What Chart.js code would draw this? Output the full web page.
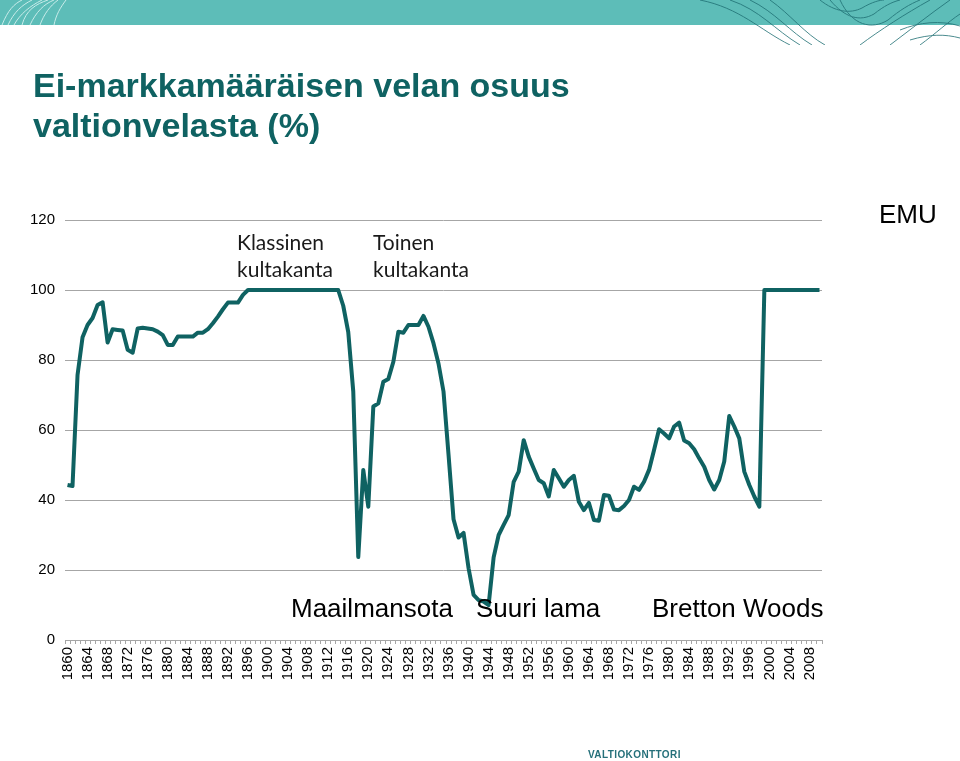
<!DOCTYPE html>
<html>
<head>
<meta charset="utf-8">
<script src="https://cdn.jsdelivr.net/npm/chart.js@4/dist/chart.umd.min.js"></script>
<style>
  body { margin: 0; background: #fff; }
  #page { position: relative; width: 960px; height: 761px; overflow: hidden; font-family: Arial, "Liberation Sans", sans-serif; }
  #shareChart { position: absolute; left: 0; top: 0; }
  .txt { position: absolute; white-space: nowrap; }
  #title { left: 33px; top: 65px; font-size: 34px; line-height: 40px; font-weight: bold; color: #0f6262; }
  .era { font-family: Lato, "Open Sans", sans-serif; font-size: 21px; line-height: 27px; color: #1a1a1a; top: 228px; }
  .event { font-size: 26px; line-height: 26px; color: #000; }
  #logo { left: 588px; top: 750px; font-size: 10px; line-height: 10px; font-weight: bold; letter-spacing: 0.4px; color: #25707a; }
</style>
</head>
<body>
<div id="page">
  <svg width="960" height="45" style="position:absolute;left:0;top:0">
    <rect x="0" y="0" width="960" height="25" fill="#5dbdb8"/>
    <g fill="none" stroke="#c9ecea" stroke-width="1">
      <path d="M2 25 C8 10, 14 4, 22 0"/>
      <path d="M8 25 C14 12, 22 5, 32 0"/>
      <path d="M14 25 C20 14, 30 6, 42 0"/>
      <path d="M22 25 C26 10, 36 4, 48 0"/>
      <path d="M30 25 C36 12, 44 4, 54 0"/>
      <path d="M40 25 C44 14, 50 6, 58 0"/>
      <path d="M54 25 C56 15, 60 8, 66 0"/>
    </g>
    <g fill="none" stroke="#1f6f73" stroke-width="1" opacity="0.8">
      <path d="M700 0 C740 8, 760 30, 790 45"/>
      <path d="M730 0 C760 10, 775 30, 800 45"/>
      <path d="M750 0 C775 12, 790 32, 812 45"/>
      <path d="M770 0 C790 14, 805 34, 825 45"/>
      <path d="M820 0 C835 12, 850 14, 862 8 C872 2, 880 0, 884 0"/>
      <path d="M830 0 C845 18, 860 22, 874 14 C884 6, 892 2, 900 0"/>
      <path d="M840 0 C852 26, 872 30, 888 20 C900 10, 910 4, 920 0"/>
      <path d="M860 45 C880 30, 905 14, 930 0"/>
      <path d="M890 45 C910 30, 930 14, 950 0"/>
      <path d="M920 45 C935 34, 948 22, 960 14"/>
      <path d="M900 30 C920 22, 940 20, 960 26"/>
      <path d="M910 40 C930 34, 945 34, 960 38"/>
    </g>
  </svg>
  <canvas id="shareChart" width="960" height="761"></canvas>
  <div id="title" class="txt">Ei-markkamääräisen velan osuus<br>valtionvelasta (%)</div>
  <div class="txt era" style="left:237px">Klassinen<br>kultakanta</div>
  <div class="txt era" style="left:373px">Toinen<br>kultakanta</div>
  <div class="txt event" style="left:291px;top:595px">Maailmansota</div>
  <div class="txt event" style="left:476px;top:595px">Suuri lama</div>
  <div class="txt event" style="left:652px;top:595px">Bretton Woods</div>
  <div class="txt event" style="left:879px;top:201px">EMU</div>
  <div id="logo" class="txt">VALTIOKONTTORI</div>
</div>
<script>
// years 1860 - 2010
const years = [
  1860, 1861, 1862, 1863, 1864, 1865, 1866, 1867, 1868, 1869,
  1870, 1871, 1872, 1873, 1874, 1875, 1876, 1877, 1878, 1879,
  1880, 1881, 1882, 1883, 1884, 1885, 1886, 1887, 1888, 1889,
  1890, 1891, 1892, 1893, 1894, 1895, 1896, 1897, 1898, 1899,
  1900, 1901, 1902, 1903, 1904, 1905, 1906, 1907, 1908, 1909,
  1910, 1911, 1912, 1913, 1914, 1915, 1916, 1917, 1918, 1919,
  1920, 1921, 1922, 1923, 1924, 1925, 1926, 1927, 1928, 1929,
  1930, 1931, 1932, 1933, 1934, 1935, 1936, 1937, 1938, 1939,
  1940, 1941, 1942, 1943, 1944, 1945, 1946, 1947, 1948, 1949,
  1950, 1951, 1952, 1953, 1954, 1955, 1956, 1957, 1958, 1959,
  1960, 1961, 1962, 1963, 1964, 1965, 1966, 1967, 1968, 1969,
  1970, 1971, 1972, 1973, 1974, 1975, 1976, 1977, 1978, 1979,
  1980, 1981, 1982, 1983, 1984, 1985, 1986, 1987, 1988, 1989,
  1990, 1991, 1992, 1993, 1994, 1995, 1996, 1997, 1998, 1999,
  2000, 2001, 2002, 2003, 2004, 2005, 2006, 2007, 2008, 2009,
  2010
];

// share of non-markka debt, %
const shareValues = [
  44.3, 44.0, 75.7, 86.5, 90.0, 92.0, 95.7, 96.5, 85.0, 88.8,
  88.6, 88.4, 82.9, 82.1, 89.0, 89.2, 89.0, 88.8, 88.1, 87.1,
  84.3, 84.3, 86.7, 86.7, 86.7, 86.7, 87.8, 87.8, 88.8, 90.5,
  92.4, 94.5, 96.4, 96.4, 96.4, 98.6, 100, 100, 100, 100,
  100, 100, 100, 100, 100, 100, 100, 100, 100, 100,
  100, 100, 100, 100, 100, 95.5, 88.0, 71.0, 23.7, 48.6,
  38.1, 66.7, 67.6, 73.8, 74.6, 79.5, 88.1, 87.8, 90.0, 90.0,
  90.0, 92.6, 89.5, 84.8, 79.0, 71.0, 53.0, 34.5, 29.3, 30.6,
  20.5, 12.9, 11.4, 11.0, 10.0, 23.6, 30.0, 32.9, 35.7, 45.2,
  48.1, 57.1, 52.4, 49.0, 45.7, 44.8, 41.0, 48.6, 46.2, 43.8,
  45.7, 46.9, 39.5, 37.1, 39.2, 34.3, 34.1, 41.4, 41.2, 37.3,
  37.1, 38.3, 40.0, 43.8, 42.9, 45.2, 48.6, 54.3, 60.2, 59.0,
  57.6, 61.0, 62.1, 57.0, 56.2, 54.5, 51.9, 49.5, 45.7, 43.0,
  45.7, 51.0, 64.0, 61.0, 57.6, 48.1, 44.3, 41.0, 38.1, 100,
  100, 100, 100, 100, 100, 100, 100, 100, 100, 100,
  100
];

const yTicks = [0, 20, 40, 60, 80, 100, 120];
const labelEvery = 4;

const gridGray = "#a6a6a6";
const tickFont = { family: "Arial, 'Liberation Sans', sans-serif", size: 15 };

const ctx = document.getElementById("shareChart");
new Chart(ctx, {
  type: "line",
  data: {
    labels: years,
    datasets: [
      {
        label: "Ei-markkamääräinen velka",
        data: shareValues,
        borderColor: "#0f6262",
        borderWidth: 4,
        pointRadius: 0,
        tension: 0,
        fill: false,
        borderJoinStyle: "round",
      },
    ],
  },
  options: {
    responsive: false,
    animation: false,
    layout: { padding: { left: 0, top: 220, right: 138, bottom: 61 } },
    plugins: {
      legend: { display: false },
      tooltip: { enabled: false },
    },
    scales: {
      x: {
        offset: true,
        grid: { drawOnChartArea: false, color: gridGray, tickLength: 4, offset: true },
        border: { color: gridGray },
        ticks: {
          autoSkip: false,
          minRotation: 90,
          maxRotation: 90,
          padding: 3,
          color: "#000",
          font: tickFont,
          callback: (value, index) => (index % labelEvery === 0 ? years[index] : ""),
        },
        afterFit: (scale) => {
          scale.height = 60;
        },
      },
      y: {
        min: yTicks[0],
        max: yTicks[yTicks.length - 1],
        afterBuildTicks: (scale) => {
          scale.ticks = yTicks.map((v) => ({ value: v }));
        },
        grid: { color: gridGray, drawTicks: false },
        border: { display: false },
        ticks: { padding: 10, color: "#000", font: tickFont },
        afterFit: (scale) => {
          scale.width = 65;
        },
      },
    },
  },
});
</script>
</body>
</html>
